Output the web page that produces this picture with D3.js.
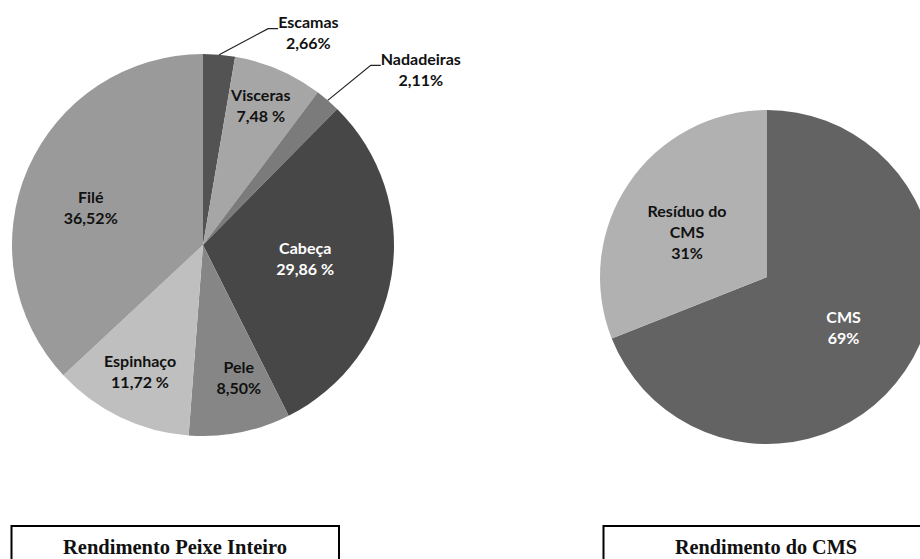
<!DOCTYPE html>
<html>
<head>
<meta charset="utf-8">
<script src="https://cdn.jsdelivr.net/npm/d3@7"></script>
<style>
  body { margin: 0; background: #fff; }
</style>
</head>
<body>
<script>
// Rendimento Peixe Inteiro (clockwise from 12 o'clock)
const fishParts = ["Escamas", "Visceras", "Nadadeiras", "Cabeça", "Pele", "Espinhaço", "Filé"];
const fishValues = [2.66, 7.48, 2.11, 29.86, 8.50, 11.72, 36.52];
const fishLabels = ["2,66%", "7,48 %", "2,11%", "29,86 %", "8,50%", "11,72 %", "36,52%"];

// Rendimento do CMS
const cmsParts = ["CMS", "Resíduo do\nCMS"];
const cmsValues = [69, 31];
const cmsLabels = ["69%", "31%"];

const titles = ["Rendimento Peixe Inteiro", "Rendimento do CMS"];

// styling
const fishColors = ["#535353", "#a6a6a6", "#7b7b7b", "#474747", "#868686", "#bfbfbf", "#9a9a9a"];
const cmsColors = ["#636363", "#b1b1b1"];
const whiteText = new Set(["Cabeça", "CMS"]);

// label placement: r = fraction of radius, da = angle shift (deg); out = leader knee offset
const fishLayout = [
    {out: [49, -26]}, {r: 0.79, da: -0.8}, {out: [43, -35]}, {r: 0.54, da: -1.2},
    {r: 0.72, da: -3.9}, {r: 0.74, da: 0.8}, {r: 0.62, da: -4.9}
];
const cmsLayout = [{r: 0.55, da: -0.7}, {r: 0.55, da: -4.8}];

const width = 920, height = 559;
const svg = d3.select("body").append("svg")
    .attr("width", width)
    .attr("height", height)
    .style("font-family", "Lato, 'Open Sans', sans-serif")
    .style("font-weight", "bold")
    .style("font-size", "16px");

const lineGap = 21;

function drawPie(cx, cy, radius, names, values, labels, colors, layout) {
    const g = svg.append("g").attr("transform", `translate(${cx},${cy})`);
    const arcs = d3.pie().sort(null).value(d => d)(values);
    const arc = d3.arc().innerRadius(0).outerRadius(radius);

    g.selectAll("path")
        .data(arcs)
        .join("path")
        .attr("fill", (d, i) => colors[i])
        .attr("d", arc);

    arcs.forEach((d, i) => {
        const lay = layout[i];
        const mid = (d.startAngle + d.endAngle) / 2;
        const lines = names[i].split("\n").concat([labels[i]]);
        const fill = whiteText.has(names[i]) ? "#fff" : "#111";

        if (lay.out) {
            // outside label with leader line
            const x0 = Math.sin(mid) * radius, y0 = -Math.cos(mid) * radius;
            const kx = x0 + lay.out[0], ky = y0 + lay.out[1];
            const ex = kx + 10;
            g.append("polyline")
                .attr("points", [[x0, y0], [kx, ky], [ex, ky]].map(p => p.join(",")).join(" "))
                .attr("fill", "none")
                .attr("stroke", "#222")
                .attr("stroke-width", 1.2);
            const t = g.append("text").attr("fill", fill).attr("text-anchor", "middle");
            const probe = g.append("text").text(lines[0]);
            const w = probe.node().getComputedTextLength();
            probe.remove();
            lines.forEach((s, j) => {
                t.append("tspan")
                    .attr("x", ex + w / 2)
                    .attr("y", ky - 6 + j * lineGap)
                    .attr("dy", "0.36em")
                    .text(s);
            });
        } else {
            const a = mid + lay.da * Math.PI / 180;
            const px = Math.sin(a) * radius * lay.r, py = -Math.cos(a) * radius * lay.r;
            const top = py - (lines.length - 1) * lineGap / 2;
            const t = g.append("text").attr("fill", fill).attr("text-anchor", "middle");
            lines.forEach((s, j) => {
                t.append("tspan")
                    .attr("x", px)
                    .attr("y", top + j * lineGap)
                    .attr("dy", "0.36em")
                    .text(s);
            });
        }
    });
}

drawPie(203, 245, 191, fishParts, fishValues, fishLabels, fishColors, fishLayout);
drawPie(767, 277, 167, cmsParts, cmsValues, cmsLabels, cmsColors, cmsLayout);

// title boxes (run off the bottom / right edge)
const boxes = [
    {x: 11.5, w: 327.5, cx: 175, tw: 224},
    {x: 603.5, w: 340, cx: 766, tw: 182}
];
boxes.forEach((b, i) => {
    svg.append("rect")
        .attr("x", b.x).attr("y", 526)
        .attr("width", b.w).attr("height", 60)
        .attr("fill", "#fff")
        .attr("stroke", "#000")
        .attr("stroke-width", 2);
    svg.append("text")
        .attr("x", b.cx).attr("y", 553.5)
        .attr("text-anchor", "middle")
        .attr("textLength", b.tw)
        .attr("lengthAdjust", "spacingAndGlyphs")
        .style("font-family", "'Liberation Serif', 'Times New Roman', serif")
        .style("font-size", "21px")
        .style("font-weight", "bold")
        .attr("fill", "#111")
        .text(titles[i]);
});
</script>
</body>
</html>
